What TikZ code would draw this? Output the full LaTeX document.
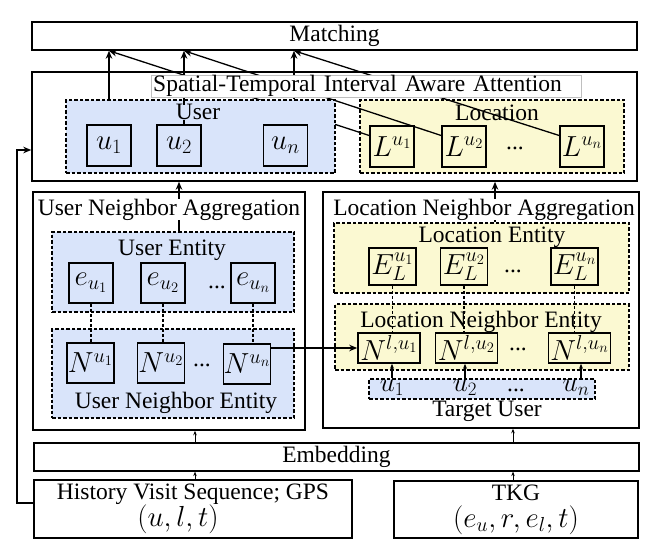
\documentclass[tikz,border=0pt]{standalone}
\usepackage{fix-cm}
\usepackage[no-math]{fontspec}
\setmainfont{Liberation Serif}
\usetikzlibrary{arrows.meta}
\definecolor{ublue}{RGB}{217,228,250}
\definecolor{lyell}{RGB}{251,249,210}
\pgfdeclarelayer{back}
\pgfdeclarelayer{diag}
\pgfsetlayers{back,diag,main}
\tikzset{
  outer/.style={draw, line width=1.5pt, fill=white, inner sep=0pt},
  dbox/.style={draw, dash pattern=on 3.5pt off 2pt, line width=1.4pt, inner sep=0pt},
  bluebox/.style={dbox, fill=ublue},
  yellbox/.style={dbox, fill=lyell},
  sq/.style={draw, line width=1.6pt, inner sep=0pt, font=\fontsize{29}{32}\selectfont},
  lbl/.style={inner sep=0pt, anchor=base},
  tmath/.style={lbl, font=\fontsize{27}{30}\selectfont},
  arr/.style={line width=1.3pt, -{Stealth[length=8pt,width=6.5pt]}},
  marr/.style={line width=1.2pt, -{Stealth[length=5pt,width=4pt]}},
  sarr/.style={line width=1pt, -{Stealth[length=4.5pt,width=3.5pt]}},
  dcon/.style={line width=1.3pt, dash pattern=on 3pt off 2pt},
}
\begin{document}
\begin{tikzpicture}[x=1pt,y=-1pt,font=\fontsize{23.5}{27}\selectfont]
\useasboundingbox (0,0) rectangle (663,559);

\begin{pgfonlayer}{back}
\node[outer, minimum width=605, minimum height=28] (match) at (334.5,36) {Matching};
\node[outer, minimum width=605, minimum height=109] (att) at (334.5,126.5) {};
\node[yellbox, minimum width=264, minimum height=73] (locbox) at (492,136.5) {};
\node[lbl] (loclbl) at (497,121) {Location};
\node[sq, fill=lyell, minimum width=44, minimum height=41] (Lu1) at (392,146.5) {$L^{u_1}$};
\node[sq, fill=lyell, minimum width=44, minimum height=41] (Lu2) at (464,146.5) {$L^{u_2}$};
\node[lbl] (Ldots) at (515,149) {...};
\node[sq, fill=lyell, minimum width=44, minimum height=41] (Lun) at (582,146.5) {$L^{u_n}$};
\end{pgfonlayer}

% user box
\node[bluebox, minimum width=269, minimum height=73] (userbox) at (200.5,136.5) {};
\node[sq, fill=ublue, minimum width=44, minimum height=41] (u1) at (109,145.5) {$u_1$};
\node[sq, fill=ublue, minimum width=44, minimum height=41] (u2) at (179,145.5) {$u_2$};
\node[sq, fill=ublue, minimum width=44, minimum height=41] (un) at (285.5,145.5) {$u_n$};

\begin{pgfonlayer}{diag}
\draw[arr] ([yshift=11pt]Lu1.west) -- (u1 |- match.south);
\draw[arr] ([yshift=11pt]Lu2.west) -- ([xshift=5pt]u2.north |- match.south);
\draw[arr] ([yshift=11pt]Lun.west) -- ([xshift=8.5pt]un.north |- match.south);
\end{pgfonlayer}

\draw[arr] (u1 |- userbox.north) -- (u1 |- match.south);
\draw[arr] ([xshift=5pt]u2.north) -- ([xshift=5pt]u2.north |- match.south);
\draw[arr] ([xshift=8.5pt]un.north |- userbox.north) -- ([xshift=8.5pt]un.north |- match.south);
\node[lbl, fill=ublue, text depth=0pt] (userlbl) at (198,120) {User};
\node[draw=black!25, line width=0.4pt, fill=white, inner xsep=2pt, inner ysep=0pt,
      text width=426pt, align=left, minimum height=22pt, anchor=west] (title) at (151,86)
      {Spatial-Temporal Interval Aware Attention};

% user neighbor aggregation
\node[outer, minimum width=272, minimum height=238] (unabox) at (169,311) {};
\node[bluebox, minimum width=242, minimum height=80] (userent) at (173,272) {};
\draw[arr] ([xshift=6pt]userent.north) -- ([xshift=6pt]userent.north |- att.south);
\node[lbl, fill=white, inner xsep=1pt] (unalbl) at (169,215) {User Neighbor Aggregation};
\node[lbl] (uelbl) at (172,255) {User Entity};
\node[sq, fill=ublue, minimum width=44, minimum height=40] (eu1) at (91,283) {$e_{u_1}$};
\node[sq, fill=ublue, minimum width=44, minimum height=40] (eu2) at (163,283) {$e_{u_2}$};
\node[lbl] (eudots) at (217,288) {...};
\node[sq, fill=ublue, minimum width=44, minimum height=40] (eun) at (253,283) {$e_{u_n}$};
\node[bluebox, minimum width=242, minimum height=89] (usernb) at (173,373.5) {};
\node[sq, fill=ublue, minimum width=47, minimum height=40] (Nu1) at (90.5,363) {$N^{u_1}$};
\node[sq, fill=ublue, minimum width=47, minimum height=40] (Nu2) at (161,363) {$N^{u_2}$};
\node[lbl] (Nudots) at (202,366) {...};
\node[sq, fill=ublue, minimum width=47, minimum height=40] (Nun) at (247,364) {$N^{u_n}$};
\node[lbl] (unelbl) at (176,408) {User Neighbor Entity};
\draw[dcon] (eu1.south) -- (eu1.south |- Nu1.north);
\draw[dcon] (eu2.south) -- (eu2.south |- Nu2.north);
\draw[dcon] (eun.south) -- (eun.south |- Nun.north);

% location neighbor aggregation
\node[outer, minimum width=316, minimum height=236] (lnabox) at (481,310) {};
\node[yellbox, minimum width=295, minimum height=70] (locent) at (481.5,258) {};
\draw[arr] ([xshift=13.5pt]locent.north) -- ([xshift=13.5pt]locent.north |- att.south);
\node[lbl, fill=white, inner xsep=1pt] (lnalbl) at (484,215) {Location Neighbor Aggregation};
\node[lbl] (lelbl) at (492,242) {Location Entity};
\node[sq, fill=lyell, minimum width=47, minimum height=37] (E1) at (392.5,266.5) {$E_L^{u_1}$};
\node[sq, fill=lyell, minimum width=47, minimum height=37] (E2) at (464,266.5) {$E_L^{u_2}$};
\node[lbl] (Edots) at (513,272) {...};
\node[sq, fill=lyell, minimum width=47, minimum height=37] (En) at (574.5,266.5) {$E_L^{u_n}$};
\node[yellbox, minimum width=294, minimum height=66] (locnb) at (482,337) {};
\node[lbl] (lnelbl) at (481,327) {Location Neighbor Entity};
\node[sq, fill=lyell, minimum width=62, minimum height=30] (Nl1) at (389,348) {$N^{l,u_1}$};
\node[sq, fill=lyell, minimum width=62, minimum height=30] (Nl2) at (466.5,348) {$N^{l,u_2}$};
\node[lbl] (Nldots) at (518,350) {...};
\node[sq, fill=lyell, minimum width=62, minimum height=30] (Nln) at (579.5,348) {$N^{l,u_n}$};
\draw[dcon] (E1.south) -- (E1.south |- Nl1.north);
\draw[dcon] (E2.south) -- (E2.south |- Nl2.north);
\draw[dcon] (En.south) -- (En.south |- Nln.north);
\node[bluebox, minimum width=226, minimum height=20] (tgt) at (482,389) {};
\node[tmath] (tu1) at (392,391) {$u_1$};
\node[tmath] (tu2) at (465,391) {$u_2$};
\node[lbl] (tdots) at (516,391) {...};
\node[tmath] (tun) at (576,391) {$u_n$};
\node[lbl] (tgtlbl) at (487,416) {Target User};
\draw[marr] (tu1 |- tgt.north) -- (tu1 |- Nl1.south);
\draw[marr] (tu2 |- tgt.north) -- (tu2 |- Nl2.south);
\draw[marr] ([xshift=5pt]tun.center |- tgt.north) -- ([xshift=5pt]tun.center |- Nln.south);

\draw[arr] (Nun.east |- Nl1.west) -- (Nl1.west);

% bottom
\node[outer, line width=1.2pt, minimum width=605, minimum height=28] (emb) at (336.5,457) {Embedding};
\node[outer, line width=1.6pt, minimum width=318, minimum height=58, align=center,
      font=\fontsize{23.5}{27}\selectfont] (hist) at (193,509)
      {History Visit Sequence; GPS\\ {\fontsize{29}{27}\selectfont$(u,l,t)$}\hspace*{30pt}};
\node[outer, line width=1.6pt, minimum width=244, minimum height=57, align=center,
      font=\fontsize{23.5}{27}\selectfont] (tkg) at (516,509.5)
      {TKG\\ {\fontsize{29}{27}\selectfont$(e_u,r,e_l,t)$}};

\draw[sarr] ([xshift=2pt]hist.north) -- ([xshift=2pt]hist.north |- emb.south);
\draw[sarr] ([xshift=2pt]hist.north |- emb.north) -- ([xshift=2pt]hist.north |- unabox.south);
\draw[sarr] ([xshift=-3pt]tkg.north) -- ([xshift=-3pt]tkg.north |- emb.south);
\draw[sarr] ([xshift=-3pt]tkg.north |- emb.north) -- ([xshift=-3pt]tkg.north |- lnabox.south);

\coordinate (fb) at (17,150);
\draw[arr] ([yshift=6pt]hist.west) -| (fb) -- (fb -| att.west);
\end{tikzpicture}
\end{document}
